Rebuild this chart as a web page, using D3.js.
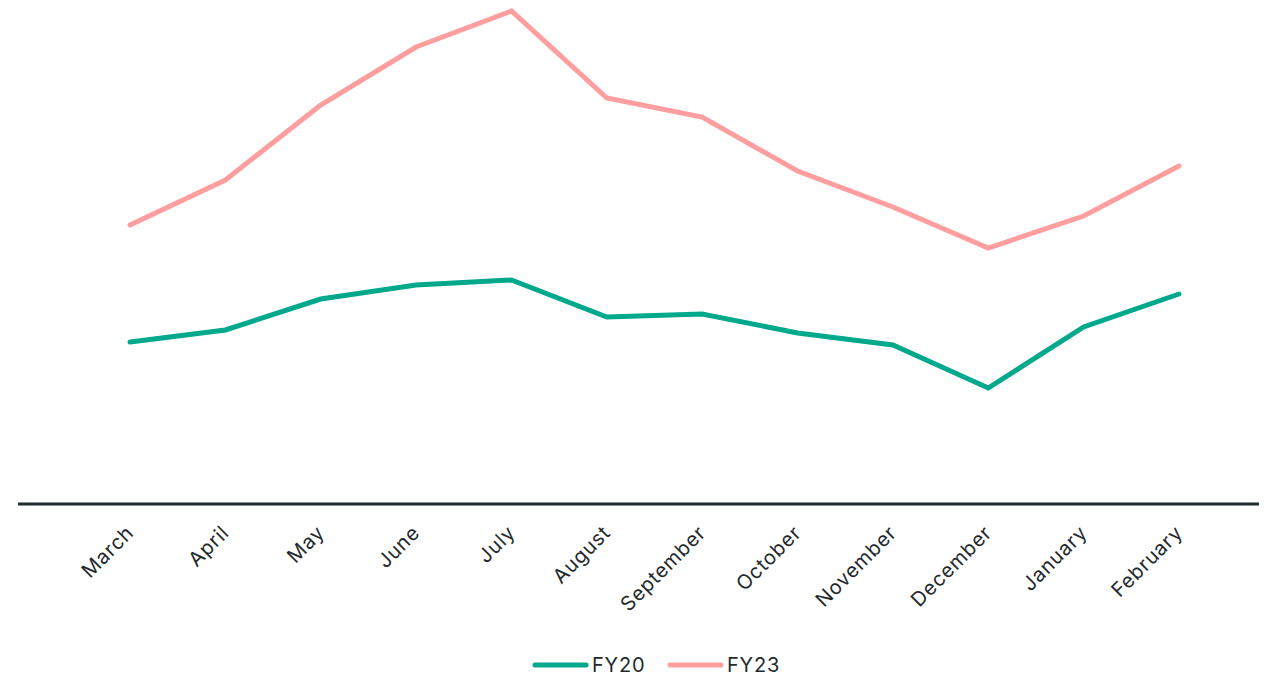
<!DOCTYPE html>
<html>
<head>
<meta charset="utf-8">
<script src="https://cdn.jsdelivr.net/npm/d3@7"></script>
<style>
  html, body { margin: 0; padding: 0; background: #ffffff; }
  svg { display: block; font-family: "Inter", "Noto Sans", sans-serif; }
</style>
</head>
<body>
<svg id="chart" width="1268" height="677"></svg>
<script>
// Monthly figures, fiscal year starting in March
const months = ["March", "April", "May", "June", "July", "August", "September",
                "October", "November", "December", "January", "February"];
const fy20 = [162, 174, 205, 219, 224, 187, 190, 171, 159, 116, 177, 210];
const fy23 = [279, 324, 399, 457, 493, 406, 387, 333, 297, 256, 288, 338];
const seriesNames = ["FY20", "FY23"];
const seriesColors = ["#00a98b", "#ff9e9e"];

const svg = d3.select("#chart");
const ink = "#1f2a2e";

const x = d3.scalePoint().domain(months).range([130, 1179]);
const y = d3.scaleLinear().domain([0, 500]).range([504, 4]);

const series = [
  { name: seriesNames[0], values: fy20, color: seriesColors[0] },
  { name: seriesNames[1], values: fy23, color: seriesColors[1] }
];

const line = d3.line()
  .x((d, i) => x(months[i]))
  .y(d => y(d));

svg.append("g")
  .selectAll("path")
  .data(series)
  .join("path")
  .attr("fill", "none")
  .attr("stroke", d => d.color)
  .attr("stroke-width", 5)
  .attr("stroke-linejoin", "miter")
  .attr("stroke-linecap", "round")
  .attr("d", d => line(d.values));

// Baseline axis
const axis = svg.append("g").attr("transform", `translate(0,${y(0)})`);
axis.append("line")
  .attr("x1", 18).attr("x2", 1259)
  .attr("stroke", ink).attr("stroke-width", 3);

axis.selectAll("text")
  .data(months)
  .join("text")
  .attr("transform", d => `translate(${x(d) + 5},${30}) rotate(-45)`)
  .attr("text-anchor", "end")
  .attr("fill", ink)
  .attr("font-size", 20)
  .attr("letter-spacing", 0.8)
  .text(d => d);

// Legend
const legend = svg.append("g").attr("transform", "translate(0,665)");
const items = legend.selectAll("g")
  .data(series)
  .join("g")
  .attr("transform", (d, i) => `translate(${535 + i * 135},0)`);
items.append("line")
  .attr("x1", 0).attr("x2", 51)
  .attr("stroke", d => d.color)
  .attr("stroke-width", 5)
  .attr("stroke-linecap", "round");
items.append("text")
  .attr("x", 57).attr("dy", "0.36em")
  .attr("fill", ink)
  .attr("font-size", 20)
  .attr("letter-spacing", 0.8)
  .text(d => d.name);
</script>
</body>
</html>
